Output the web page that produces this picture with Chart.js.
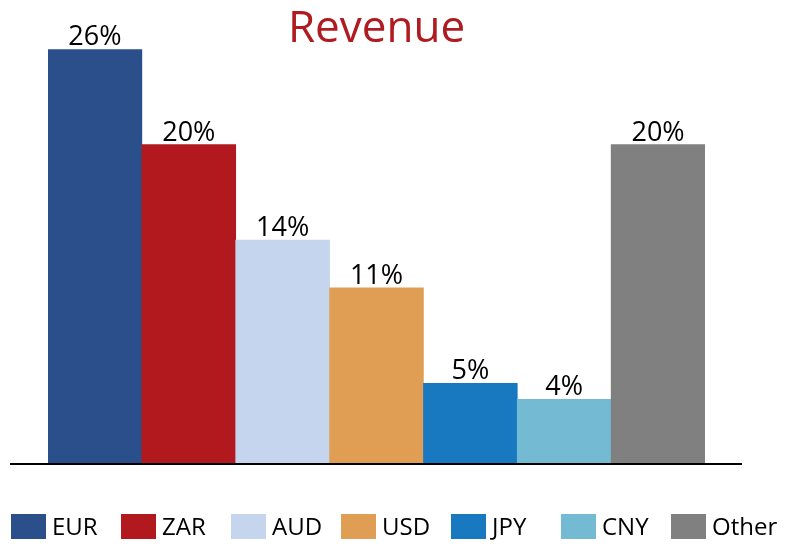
<!DOCTYPE html>
<html>
<head>
<meta charset="utf-8">
<script src="https://cdn.jsdelivr.net/npm/chart.js@4/dist/chart.umd.min.js"></script>
<style>
  html, body { margin: 0; padding: 0; background: #fff; }
</style>
</head>
<body>
<canvas id="revenueChart" width="785" height="544"></canvas>
<script>
const currencies = ["EUR", "ZAR", "AUD", "USD", "JPY", "CNY", "Other"];
const shares = [26, 20, 14, 11, 5, 4, 20];
const barColors = ["#2B4F8A", "#B2191E", "#C5D5EE", "#E09E55", "#1879C1", "#74BAD3", "#808080"];

const FONT = "'Open Sans', sans-serif";

// value labels above each bar
const barLabels = {
  id: "barLabels",
  afterDatasetsDraw(chart) {
    const ctx = chart.ctx;
    const meta = chart.getDatasetMeta(0);
    ctx.save();
    ctx.font = "27px " + FONT;
    ctx.fillStyle = "#000";
    ctx.textAlign = "center";
    ctx.textBaseline = "alphabetic";
    meta.data.forEach((bar, i) => {
      ctx.fillText(shares[i] + "%", bar.x, bar.y - 4);
    });
    ctx.restore();
  }
};

// baseline wider than the bars
const baseline = {
  id: "baseline",
  afterDatasetsDraw(chart) {
    const ctx = chart.ctx;
    const y = chart.chartArea.bottom + 1;
    ctx.save();
    ctx.strokeStyle = "#000";
    ctx.lineWidth = 2;
    ctx.beginPath();
    ctx.moveTo(10, y);
    ctx.lineTo(742, y);
    ctx.stroke();
    ctx.restore();
  }
};

// legend with a fixed pitch, like the original
const bottomLegend = {
  id: "bottomLegend",
  afterDraw(chart) {
    const ctx = chart.ctx;
    ctx.save();
    ctx.font = "24px " + FONT;
    ctx.textBaseline = "middle";
    ctx.textAlign = "left";
    currencies.forEach((name, i) => {
      const x = 11 + i * 110;
      ctx.fillStyle = barColors[i];
      ctx.fillRect(x, 514, 35, 25);
      ctx.fillStyle = "#000";
      ctx.fillText(name, x + 41, 528);
    });
    ctx.restore();
  }
};

new Chart(document.getElementById("revenueChart").getContext("2d"), {
  type: "bar",
  data: {
    labels: currencies,
    datasets: [{
      label: "Revenue",
      data: shares,
      backgroundColor: barColors,
      borderWidth: 0,
      barPercentage: 1,
      categoryPercentage: 1
    }]
  },
  options: {
    responsive: false,
    animation: false,
    layout: {
      padding: { left: 48, right: 80, top: 0, bottom: 81 }
    },
    plugins: {
      legend: { display: false },
      tooltip: { enabled: false },
      title: {
        display: true,
        text: "Revenue",
        color: "#B01B22",
        fullSize: false,
        font: { family: FONT, size: 44, weight: "normal", lineHeight: 0.89 },
        padding: { top: 10, bottom: 0 }
      }
    },
    scales: {
      x: { display: false },
      y: { display: false, min: 0, max: 26 }
    }
  },
  plugins: [barLabels, baseline, bottomLegend]
});
</script>
</body>
</html>
